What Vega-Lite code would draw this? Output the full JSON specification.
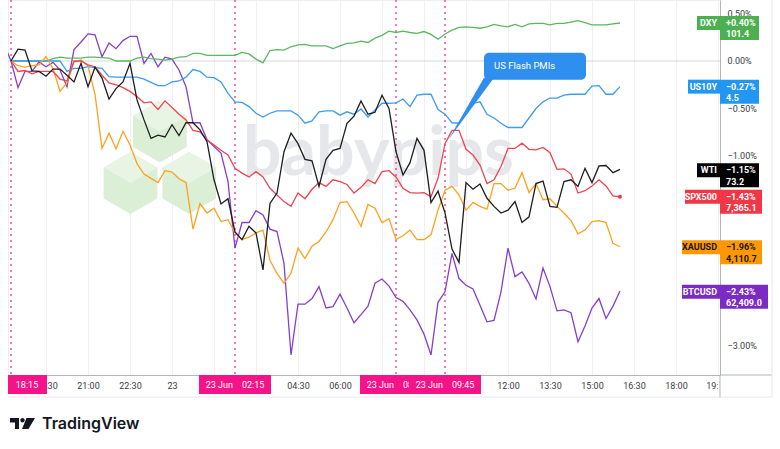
{
"$schema":"https://vega.github.io/schema/vega-lite/v6.json",
"width":712,"height":375,
"autosize":{"type":"none"},
"padding":{"left":8,"top":0,"right":60,"bottom":74},
"background":"#ffffff",
"config":{"font":"Roboto","view":{"stroke":"#eceef2"}},
"data":{"values":[{}]},
"datasets":{
"prices":[
{"t":"2025-06-22T18:00","BTCUSD":0.18},
{"t":"2025-06-22T18:15","DXY":0,"US10Y":0,"XAUUSD":0,"BTCUSD":0,"SPX500":0,"WTI":0},
{"t":"2025-06-22T18:30","DXY":0,"US10Y":0,"XAUUSD":-0.05,"BTCUSD":-0.28,"SPX500":-0.11,"WTI":0.125},
{"t":"2025-06-22T18:45","DXY":0,"US10Y":0,"XAUUSD":-0.065,"BTCUSD":-0.11,"SPX500":-0.10,"WTI":0.115},
{"t":"2025-06-22T19:00","DXY":0,"US10Y":0,"XAUUSD":-0.05,"BTCUSD":-0.11,"SPX500":-0.135,"WTI":-0.105},
{"t":"2025-06-22T19:15","DXY":0,"US10Y":0,"XAUUSD":-0.04,"BTCUSD":-0.01,"SPX500":-0.11,"WTI":-0.11},
{"t":"2025-06-22T19:30","DXY":0,"US10Y":0,"XAUUSD":0.045,"BTCUSD":-0.06,"SPX500":-0.11,"WTI":-0.16},
{"t":"2025-06-22T19:45","DXY":0.025,"US10Y":0,"XAUUSD":-0.08,"BTCUSD":-0.015,"SPX500":-0.11,"WTI":-0.085},
{"t":"2025-06-22T20:00","DXY":0.04,"US10Y":0,"XAUUSD":-0.32,"BTCUSD":-0.095,"SPX500":-0.19,"WTI":-0.085},
{"t":"2025-06-22T20:15","DXY":0.03,"US10Y":-0.11,"XAUUSD":-0.23,"BTCUSD":-0.27,"SPX500":-0.21,"WTI":-0.15},
{"t":"2025-06-22T20:30","DXY":0.03,"US10Y":-0.077,"XAUUSD":-0.01,"BTCUSD":0.12,"SPX500":0,"WTI":-0.22},
{"t":"2025-06-22T20:45","DXY":0.03,"US10Y":-0.077,"XAUUSD":0.01,"BTCUSD":0.2,"SPX500":0,"WTI":-0.025},
{"t":"2025-06-22T21:00","DXY":0.04,"US10Y":-0.06,"XAUUSD":-0.05,"BTCUSD":0.285,"SPX500":-0.04,"WTI":-0.27},
{"t":"2025-06-22T21:15","DXY":0.04,"US10Y":-0.07,"XAUUSD":-0.35,"BTCUSD":0.275,"SPX500":-0.06,"WTI":-0.065},
{"t":"2025-06-22T21:30","DXY":0.035,"US10Y":-0.077,"XAUUSD":-0.92,"BTCUSD":0.045,"SPX500":-0.15,"WTI":-0.18},
{"t":"2025-06-22T21:45","DXY":0.03,"US10Y":-0.165,"XAUUSD":-0.76,"BTCUSD":0.19,"SPX500":-0.23,"WTI":-0.4},
{"t":"2025-06-22T22:00","DXY":0,"US10Y":-0.17,"XAUUSD":-0.925,"BTCUSD":0.13,"SPX500":-0.25,"WTI":-0.29},
{"t":"2025-06-22T22:15","DXY":0,"US10Y":-0.17,"XAUUSD":-0.74,"BTCUSD":0.215,"SPX500":-0.28,"WTI":-0.22},
{"t":"2025-06-22T22:30","DXY":0,"US10Y":-0.17,"XAUUSD":-0.885,"BTCUSD":0.26,"SPX500":-0.32,"WTI":-0.025},
{"t":"2025-06-22T22:45","DXY":0.03,"US10Y":-0.17,"XAUUSD":-1.08,"BTCUSD":0.26,"SPX500":-0.375,"WTI":-0.41},
{"t":"2025-06-22T23:00","DXY":0.04,"US10Y":-0.19,"XAUUSD":-1.19,"BTCUSD":-0.025,"SPX500":-0.44,"WTI":-0.62},
{"t":"2025-06-22T23:15","DXY":0.025,"US10Y":-0.225,"XAUUSD":-1.235,"BTCUSD":0.08,"SPX500":-0.43,"WTI":-0.815},
{"t":"2025-06-22T23:30","DXY":0.02,"US10Y":-0.26,"XAUUSD":-1.28,"BTCUSD":-0.06,"SPX500":-0.51,"WTI":-0.78},
{"t":"2025-06-22T23:45","DXY":0.01,"US10Y":-0.26,"XAUUSD":-1.155,"BTCUSD":0.04,"SPX500":-0.42,"WTI":-0.8},
{"t":"2025-06-23T00:00","DXY":0.02,"US10Y":-0.22,"XAUUSD":-1.17,"BTCUSD":0.02,"SPX500":-0.49,"WTI":-0.67},
{"t":"2025-06-23T00:15","DXY":0.04,"US10Y":-0.21,"XAUUSD":-1.24,"BTCUSD":-0.095,"SPX500":-0.56,"WTI":-0.785},
{"t":"2025-06-23T00:30","DXY":0.045,"US10Y":-0.17,"XAUUSD":-1.28,"BTCUSD":-0.27,"SPX500":-0.62,"WTI":-0.65},
{"t":"2025-06-23T00:45","DXY":0.08,"US10Y":-0.09,"XAUUSD":-1.77,"BTCUSD":-0.65,"SPX500":-0.73,"WTI":-0.65},
{"t":"2025-06-23T01:00","DXY":0.08,"US10Y":-0.11,"XAUUSD":-1.5,"BTCUSD":-0.65,"SPX500":-0.745,"WTI":-0.725},
{"t":"2025-06-23T01:15","DXY":0.06,"US10Y":-0.17,"XAUUSD":-1.6,"BTCUSD":-0.83,"SPX500":-0.83,"WTI":-0.85},
{"t":"2025-06-23T01:30","DXY":0.06,"US10Y":-0.175,"XAUUSD":-1.55,"BTCUSD":-0.9,"SPX500":-0.885,"WTI":-1.25},
{"t":"2025-06-23T01:45","DXY":0.06,"US10Y":-0.22,"XAUUSD":-1.69,"BTCUSD":-0.97,"SPX500":-0.94,"WTI":-1.505},
{"t":"2025-06-23T02:00","DXY":0.06,"US10Y":-0.34,"XAUUSD":-1.67,"BTCUSD":-1.27,"SPX500":-0.99,"WTI":-1.45},
{"t":"2025-06-23T02:15","DXY":0.06,"US10Y":-0.43,"XAUUSD":-1.81,"BTCUSD":-1.97,"SPX500":-1.13,"WTI":-1.8},
{"t":"2025-06-23T02:30","DXY":0.09,"US10Y":-0.435,"XAUUSD":-1.88,"BTCUSD":-1.7,"SPX500":-1.18,"WTI":-1.88},
{"t":"2025-06-23T02:45","DXY":0.075,"US10Y":-0.48,"XAUUSD":-1.855,"BTCUSD":-1.7,"SPX500":-1.22,"WTI":-1.74},
{"t":"2025-06-23T03:00","DXY":0.02,"US10Y":-0.55,"XAUUSD":-1.81,"BTCUSD":-1.575,"SPX500":-1.165,"WTI":-1.81},
{"t":"2025-06-23T03:15","DXY":-0.02,"US10Y":-0.59,"XAUUSD":-1.78,"BTCUSD":-1.62,"SPX500":-1.22,"WTI":-2.2},
{"t":"2025-06-23T03:30","DXY":0.11,"US10Y":-0.55,"XAUUSD":-2.1,"BTCUSD":-1.77,"SPX500":-1.34,"WTI":-1.5},
{"t":"2025-06-23T03:45","DXY":0.12,"US10Y":-0.525,"XAUUSD":-2.235,"BTCUSD":-1.795,"SPX500":-1.41,"WTI":-1.39},
{"t":"2025-06-23T04:00","DXY":0.115,"US10Y":-0.525,"XAUUSD":-2.34,"BTCUSD":-2.13,"SPX500":-1.48,"WTI":-0.955},
{"t":"2025-06-23T04:15","DXY":0.15,"US10Y":-0.525,"XAUUSD":-2.235,"BTCUSD":-3.095,"SPX500":-1.53,"WTI":-0.76},
{"t":"2025-06-23T04:30","DXY":0.17,"US10Y":-0.57,"XAUUSD":-1.97,"BTCUSD":-2.56,"SPX500":-1.39,"WTI":-0.87},
{"t":"2025-06-23T04:45","DXY":0.175,"US10Y":-0.655,"XAUUSD":-2.08,"BTCUSD":-2.56,"SPX500":-1.45,"WTI":-1.035},
{"t":"2025-06-23T05:00","DXY":0.16,"US10Y":-0.63,"XAUUSD":-1.95,"BTCUSD":-2.5,"SPX500":-1.35,"WTI":-1.05},
{"t":"2025-06-23T05:15","DXY":0.16,"US10Y":-0.535,"XAUUSD":-1.9,"BTCUSD":-2.375,"SPX500":-1.28,"WTI":-1.32},
{"t":"2025-06-23T05:30","DXY":0.16,"US10Y":-0.525,"XAUUSD":-1.8,"BTCUSD":-2.6,"SPX500":-1.32,"WTI":-1.035},
{"t":"2025-06-23T05:45","DXY":0.13,"US10Y":-0.525,"XAUUSD":-1.67,"BTCUSD":-2.585,"SPX500":-1.25,"WTI":-0.94},
{"t":"2025-06-23T06:00","DXY":0.16,"US10Y":-0.57,"XAUUSD":-1.49,"BTCUSD":-2.455,"SPX500":-1.27,"WTI":-0.92},
{"t":"2025-06-23T06:15","DXY":0.185,"US10Y":-0.535,"XAUUSD":-1.48,"BTCUSD":-2.6,"SPX500":-1.3,"WTI":-0.655},
{"t":"2025-06-23T06:30","DXY":0.19,"US10Y":-0.56,"XAUUSD":-1.6,"BTCUSD":-2.755,"SPX500":-1.39,"WTI":-0.58},
{"t":"2025-06-23T06:45","DXY":0.21,"US10Y":-0.505,"XAUUSD":-1.74,"BTCUSD":-2.67,"SPX500":-1.33,"WTI":-0.42},
{"t":"2025-06-23T07:00","DXY":0.195,"US10Y":-0.59,"XAUUSD":-1.51,"BTCUSD":-2.58,"SPX500":-1.25,"WTI":-0.56},
{"t":"2025-06-23T07:15","DXY":0.24,"US10Y":-0.515,"XAUUSD":-1.55,"BTCUSD":-2.34,"SPX500":-1.29,"WTI":-0.54},
{"t":"2025-06-23T07:30","DXY":0.27,"US10Y":-0.445,"XAUUSD":-1.7,"BTCUSD":-2.295,"SPX500":-1.165,"WTI":-0.36},
{"t":"2025-06-23T07:45","DXY":0.315,"US10Y":-0.445,"XAUUSD":-1.66,"BTCUSD":-2.37,"SPX500":-1.155,"WTI":-0.5},
{"t":"2025-06-23T08:00","DXY":0.3,"US10Y":-0.44,"XAUUSD":-1.88,"BTCUSD":-2.49,"SPX500":-1.22,"WTI":-0.955},
{"t":"2025-06-23T08:15","DXY":0.315,"US10Y":-0.4,"XAUUSD":-1.84,"BTCUSD":-2.53,"SPX500":-1.34,"WTI":-1.2},
{"t":"2025-06-23T08:30","DXY":0.3,"US10Y":-0.48,"XAUUSD":-1.78,"BTCUSD":-2.62,"SPX500":-1.385,"WTI":-1.07},
{"t":"2025-06-23T08:45","DXY":0.29,"US10Y":-0.36,"XAUUSD":-1.88,"BTCUSD":-2.725,"SPX500":-1.39,"WTI":-0.815},
{"t":"2025-06-23T09:00","DXY":0.31,"US10Y":-0.35,"XAUUSD":-1.88,"BTCUSD":-2.875,"SPX500":-1.385,"WTI":-0.94},
{"t":"2025-06-23T09:15","DXY":0.28,"US10Y":-0.35,"XAUUSD":-1.83,"BTCUSD":-3.095,"SPX500":-1.43,"WTI":-1.49},
{"t":"2025-06-23T09:30","DXY":0.23,"US10Y":-0.51,"XAUUSD":-1.57,"BTCUSD":-2.54,"SPX500":-1.235,"WTI":-1.37},
{"t":"2025-06-23T09:45","DXY":0.285,"US10Y":-0.56,"XAUUSD":-1.36,"BTCUSD":-2.43,"SPX500":-0.87,"WTI":-1.6},
{"t":"2025-06-23T10:00","DXY":0.325,"US10Y":-0.65,"XAUUSD":-1.32,"BTCUSD":-2.025,"SPX500":-0.73,"WTI":-1.98},
{"t":"2025-06-23T10:15","DXY":0.355,"US10Y":-0.655,"XAUUSD":-1.41,"BTCUSD":-2.29,"SPX500":-0.73,"WTI":-2.12},
{"t":"2025-06-23T10:30","DXY":0.36,"US10Y":-0.55,"XAUUSD":-1.57,"BTCUSD":-2.36,"SPX500":-0.93,"WTI":-1.28},
{"t":"2025-06-23T10:45","DXY":0.355,"US10Y":-0.445,"XAUUSD":-1.49,"BTCUSD":-2.4,"SPX500":-0.99,"WTI":-1.35},
{"t":"2025-06-23T11:00","DXY":0.345,"US10Y":-0.43,"XAUUSD":-1.53,"BTCUSD":-2.57,"SPX500":-1.095,"WTI":-1.295},
{"t":"2025-06-23T11:15","DXY":0.36,"US10Y":-0.56,"XAUUSD":-1.56,"BTCUSD":-2.745,"SPX500":-1.29,"WTI":-1.445},
{"t":"2025-06-23T11:30","DXY":0.385,"US10Y":-0.6,"XAUUSD":-1.29,"BTCUSD":-2.73,"SPX500":-1.25,"WTI":-1.53},
{"t":"2025-06-23T11:45","DXY":0.37,"US10Y":-0.655,"XAUUSD":-1.29,"BTCUSD":-2.43,"SPX500":-1.11,"WTI":-1.6},
{"t":"2025-06-23T12:00","DXY":0.36,"US10Y":-0.7,"XAUUSD":-1.36,"BTCUSD":-1.97,"SPX500":-0.92,"WTI":-1.57},
{"t":"2025-06-23T12:15","DXY":0.385,"US10Y":-0.7,"XAUUSD":-1.34,"BTCUSD":-2.27,"SPX500":-0.92,"WTI":-1.48},
{"t":"2025-06-23T12:30","DXY":0.36,"US10Y":-0.7,"XAUUSD":-1.175,"BTCUSD":-2.22,"SPX500":-0.865,"WTI":-1.7},
{"t":"2025-06-23T12:45","DXY":0.39,"US10Y":-0.6,"XAUUSD":-1.385,"BTCUSD":-2.34,"SPX500":-0.93,"WTI":-1.64},
{"t":"2025-06-23T13:00","DXY":0.395,"US10Y":-0.5,"XAUUSD":-1.29,"BTCUSD":-2.505,"SPX500":-0.935,"WTI":-1.29},
{"t":"2025-06-23T13:15","DXY":0.395,"US10Y":-0.43,"XAUUSD":-1.46,"BTCUSD":-2.18,"SPX500":-0.91,"WTI":-1.265},
{"t":"2025-06-23T13:30","DXY":0.38,"US10Y":-0.39,"XAUUSD":-1.45,"BTCUSD":-2.375,"SPX500":-0.965,"WTI":-1.53},
{"t":"2025-06-23T13:45","DXY":0.395,"US10Y":-0.39,"XAUUSD":-1.53,"BTCUSD":-2.63,"SPX500":-1.14,"WTI":-1.54},
{"t":"2025-06-23T14:00","DXY":0.395,"US10Y":-0.36,"XAUUSD":-1.6,"BTCUSD":-2.62,"SPX500":-1.135,"WTI":-1.27},
{"t":"2025-06-23T14:15","DXY":0.41,"US10Y":-0.35,"XAUUSD":-1.68,"BTCUSD":-2.65,"SPX500":-1.19,"WTI":-1.25},
{"t":"2025-06-23T14:30","DXY":0.425,"US10Y":-0.35,"XAUUSD":-1.82,"BTCUSD":-2.955,"SPX500":-1.39,"WTI":-1.32},
{"t":"2025-06-23T14:45","DXY":0.405,"US10Y":-0.35,"XAUUSD":-1.78,"BTCUSD":-2.79,"SPX500":-1.365,"WTI":-1.13},
{"t":"2025-06-23T15:00","DXY":0.38,"US10Y":-0.265,"XAUUSD":-1.69,"BTCUSD":-2.6,"SPX500":-1.315,"WTI":-1.28},
{"t":"2025-06-23T15:15","DXY":0.38,"US10Y":-0.26,"XAUUSD":-1.68,"BTCUSD":-2.5,"SPX500":-1.25,"WTI":-1.105},
{"t":"2025-06-23T15:30","DXY":0.38,"US10Y":-0.35,"XAUUSD":-1.7,"BTCUSD":-2.71,"SPX500":-1.315,"WTI":-1.1},
{"t":"2025-06-23T15:45","DXY":0.39,"US10Y":-0.35,"XAUUSD":-1.92,"BTCUSD":-2.58,"SPX500":-1.42,"WTI":-1.175},
{"t":"2025-06-23T16:00","DXY":0.4,"US10Y":-0.27,"XAUUSD":-1.955,"BTCUSD":-2.42,"SPX500":-1.43,"WTI":-1.14}
],
"tags":[
{"s":"DXY","pct":"+0.40%","price":"101.4","v":0.40,"t":"2025-06-23T16:00"},
{"s":"US10Y","pct":"−0.27%","price":"4.5","v":-0.27,"t":"2025-06-23T16:00"},
{"s":"WTI","pct":"−1.15%","price":"73.2","v":-1.15,"t":"2025-06-23T16:00"},
{"s":"SPX500","pct":"−1.43%","price":"7,365.1","v":-1.43,"t":"2025-06-23T16:00"},
{"s":"XAUUSD","pct":"−1.96%","price":"4,110.7","v":-1.96,"t":"2025-06-23T16:00"},
{"s":"BTCUSD","pct":"−2.43%","price":"62,409.0","v":-2.43,"t":"2025-06-23T16:00"}
],
"events":[
{"t":"2025-06-22T18:15","label":"18:15"},
{"t":"2025-06-23T02:15","label":"23 Jun\u00a0\u00a0\u00a0\u00a002:15"},
{"t":"2025-06-23T08:00","label":"23 Jun\u00a0\u00a0\u00a0\u00a008:00"},
{"t":"2025-06-23T09:45","label":"23 Jun\u00a0\u00a0\u00a0\u00a009:45"}
],
"note":[{"t":"2025-06-23T09:45","v":-0.87,"label":"US Flash PMIs"}]
},
"layer":[
{"mark":{"type":"point","shape":"M0,-0.933L0.3835,-0.7115L0.3835,-0.2685L0,-0.047L-0.3835,-0.2685L-0.3835,-0.7115ZM-0.42,-0.197L-0.0365,0.0245L-0.0365,0.4675L-0.42,0.689L-0.8035,0.4675L-0.8035,0.0245ZM0.42,-0.197L0.8035,0.0245L0.8035,0.4675L0.42,0.689L0.0365,0.4675L0.0365,0.0245Z","size":19600,"filled":true,"fill":"#dbefd6","strokeWidth":0,"opacity":1},
 "encoding":{"x":{"datum":{"year":2025,"month":6,"date":22,"hours":23,"minutes":34},"type":"temporal"},"y":{"datum":-1.103,"type":"quantitative"}}},
{"mark":{"type":"point","shape":"M0,-0.933L0.3835,-0.7115L0,-0.49L-0.3835,-0.7115ZM-0.42,-0.197L-0.0365,0.0245L-0.42,0.246L-0.8035,0.0245ZM0.42,-0.197L0.8035,0.0245L0.42,0.246L0.0365,0.0245Z","size":19600,"filled":true,"fill":"#e8f5e5","strokeWidth":0,"opacity":1},
 "encoding":{"x":{"datum":{"year":2025,"month":6,"date":22,"hours":23,"minutes":34},"type":"temporal"},"y":{"datum":-1.103,"type":"quantitative"}}},
{"mark":{"type":"text","text":"babypips","font":"Lato","fontWeight":"bold","fontSize":68,"align":"left","baseline":"alphabetic","color":"#e6e7ea"},
 "encoding":{"x":{"datum":{"year":2025,"month":6,"date":23,"hours":2,"minutes":32},"type":"temporal"},"y":{"datum":-1.2,"type":"quantitative"}}},
{"mark":{"type":"rule","color":"#d3d6dc","strokeWidth":1},
 "encoding":{"y":{"datum":0,"type":"quantitative"}}},
{"data":{"name":"events"},
 "mark":{"type":"rule","color":"#f4509c","strokeWidth":1.5,"strokeDash":[2,4]},
 "encoding":{"x":{"field":"t","type":"temporal"}}},
{"data":{"name":"prices"},
 "transform":[{"fold":["DXY","US10Y","XAUUSD","BTCUSD","SPX500","WTI"],"as":["s","v"]},{"filter":"isValid(datum.v)"}],
 "mark":{"type":"line","strokeWidth":1.3,"clip":true},
 "encoding":{
  "x":{"field":"t","type":"temporal",
   "scale":{"domain":[{"year":2025,"month":6,"date":22,"hours":18,"minutes":8,"seconds":34},{"year":2025,"month":6,"date":23,"hours":19,"minutes":34,"seconds":17}],"nice":false},
   "axis":{"orient":"bottom","title":null,
    "values":[{"year":2025,"month":6,"date":22,"hours":19,"minutes":30},{"year":2025,"month":6,"date":22,"hours":21,"minutes":0},{"year":2025,"month":6,"date":22,"hours":22,"minutes":30},{"year":2025,"month":6,"date":23,"hours":0,"minutes":0},{"year":2025,"month":6,"date":23,"hours":1,"minutes":30},{"year":2025,"month":6,"date":23,"hours":3,"minutes":0},{"year":2025,"month":6,"date":23,"hours":4,"minutes":30},{"year":2025,"month":6,"date":23,"hours":6,"minutes":0},{"year":2025,"month":6,"date":23,"hours":7,"minutes":30},{"year":2025,"month":6,"date":23,"hours":9,"minutes":0},{"year":2025,"month":6,"date":23,"hours":10,"minutes":30},{"year":2025,"month":6,"date":23,"hours":12,"minutes":0},{"year":2025,"month":6,"date":23,"hours":13,"minutes":30},{"year":2025,"month":6,"date":23,"hours":15,"minutes":0},{"year":2025,"month":6,"date":23,"hours":16,"minutes":30},{"year":2025,"month":6,"date":23,"hours":18,"minutes":0},{"year":2025,"month":6,"date":23,"hours":19,"minutes":30}],
    "labelExpr":"indexof(['01:30','03:00','07:30','09:00','10:30'], timeFormat(datum.value,'%H:%M')) >= 0 ? '' : (timeFormat(datum.value,'%H:%M') == '00:00' ? '23' : (timeFormat(datum.value,'%d %H:%M') == '23 19:30' ? '19:' : timeFormat(datum.value,'%H:%M')))",
    "labelAlign":{"condition":{"test":"timeFormat(datum.value,'%d %H:%M') == '23 19:30'","value":"right"},"value":"center"},
    "labelOverlap":false,"labelFlush":false,"labelBound":false,
    "ticks":false,"domain":true,"domainColor":"#b2b5be","grid":true,"gridColor":"#eef0f4",
    "labelColor":"#3a3d45","labelFontSize":9,"labelFont":"Roboto","labelPadding":6}},
  "y":{"field":"v","type":"quantitative",
   "scale":{"domain":[-3.3053,0.6421],"nice":false,"zero":false},
   "axis":{"orient":"right","title":null,"values":[0.5,0,-0.5,-1,-3],
    "labelExpr":"format(datum.value,'.2f') + '%'",
    "ticks":false,"domain":true,"domainColor":"#b2b5be","grid":false,
    "labelColor":"#3a3d45","labelFontSize":9,"labelFont":"Roboto","labelPadding":7}},
  "stroke":{"field":"s","type":"nominal","legend":null,
   "scale":{"domain":["DXY","US10Y","XAUUSD","BTCUSD","SPX500","WTI"],"range":["#5cb85f","#3d9bf2","#ffa11c","#8440cc","#f0444f","#1e1e1e"]}}}},
{"data":{"name":"tags"},"transform":[{"filter":"datum.s === 'SPX500'"}],
 "mark":{"type":"circle","size":16,"color":"#f23645","opacity":1},
 "encoding":{"x":{"field":"t","type":"temporal"},"y":{"field":"v","type":"quantitative"}}},
{"data":{"name":"note"},
 "mark":{"type":"point","shape":"M0.06,-0.07L0.78,-1.32L0.98,-1.32Z","size":10000,"filled":true,"fill":"#2f8fef","strokeWidth":0,"opacity":1},
 "encoding":{"x":{"field":"t","type":"temporal"},"y":{"field":"v","type":"quantitative"}}},
{"data":{"name":"note"},
 "mark":{"type":"rect","fill":"#2f8fef","cornerRadius":5,"xOffset":39,"x2Offset":141,"yOffset":-91,"y2Offset":-64},
 "encoding":{"x":{"field":"t","type":"temporal"},"x2":{"field":"t"},"y":{"field":"v","type":"quantitative"},"y2":{"field":"v"}}},
{"data":{"name":"note"},
 "mark":{"type":"text","align":"left","baseline":"middle","xOffset":49,"yOffset":-78,"fontSize":9.5,"color":"#ffffff","font":"Roboto"},
 "encoding":{"x":{"field":"t","type":"temporal"},"y":{"field":"v","type":"quantitative"},"text":{"field":"label"}}},
{"data":{"name":"tags"},"transform":[{"filter":{"field":"s","oneOf":["DXY","WTI"]}}],
 "mark":{"type":"rect","xOffset":-23,"x2Offset":0,"yOffset":-7,"y2Offset":7},
 "encoding":{"x":{"datum":{"year":2025,"month":6,"date":23,"hours":19,"minutes":34,"seconds":17},"type":"temporal"},"x2":{"datum":{"year":2025,"month":6,"date":23,"hours":19,"minutes":34,"seconds":17}},"y":{"field":"v","type":"quantitative"},"y2":{"field":"v"},
  "fill":{"field":"s","type":"nominal","legend":null,"scale":{"domain":["DXY","US10Y","XAUUSD","BTCUSD","SPX500","WTI"],"range":["#4caf50","#2196f3","#ff9800","#7b2bc4","#f23645","#000000"]}}}},
{"data":{"name":"tags"},"transform":[{"filter":{"field":"s","oneOf":["US10Y"]}}],
 "mark":{"type":"rect","xOffset":-32,"x2Offset":0,"yOffset":-7,"y2Offset":7},
 "encoding":{"x":{"datum":{"year":2025,"month":6,"date":23,"hours":19,"minutes":34,"seconds":17},"type":"temporal"},"x2":{"datum":{"year":2025,"month":6,"date":23,"hours":19,"minutes":34,"seconds":17}},"y":{"field":"v","type":"quantitative"},"y2":{"field":"v"},"fill":{"field":"s","type":"nominal","legend":null}}},
{"data":{"name":"tags"},"transform":[{"filter":{"field":"s","oneOf":["SPX500"]}}],
 "mark":{"type":"rect","xOffset":-35,"x2Offset":0,"yOffset":-7,"y2Offset":7},
 "encoding":{"x":{"datum":{"year":2025,"month":6,"date":23,"hours":19,"minutes":34,"seconds":17},"type":"temporal"},"x2":{"datum":{"year":2025,"month":6,"date":23,"hours":19,"minutes":34,"seconds":17}},"y":{"field":"v","type":"quantitative"},"y2":{"field":"v"},"fill":{"field":"s","type":"nominal","legend":null}}},
{"data":{"name":"tags"},"transform":[{"filter":{"field":"s","oneOf":["XAUUSD","BTCUSD"]}}],
 "mark":{"type":"rect","xOffset":-38,"x2Offset":0,"yOffset":-7,"y2Offset":7},
 "encoding":{"x":{"datum":{"year":2025,"month":6,"date":23,"hours":19,"minutes":34,"seconds":17},"type":"temporal"},"x2":{"datum":{"year":2025,"month":6,"date":23,"hours":19,"minutes":34,"seconds":17}},"y":{"field":"v","type":"quantitative"},"y2":{"field":"v"},"fill":{"field":"s","type":"nominal","legend":null}}},
{"data":{"name":"tags"},"transform":[{"filter":{"field":"s","oneOf":["DXY","US10Y","WTI"]}}],
 "mark":{"type":"rect","xOffset":0,"x2Offset":39,"yOffset":-7,"y2Offset":17},
 "encoding":{"x":{"datum":{"year":2025,"month":6,"date":23,"hours":19,"minutes":34,"seconds":17},"type":"temporal"},"x2":{"datum":{"year":2025,"month":6,"date":23,"hours":19,"minutes":34,"seconds":17}},"y":{"field":"v","type":"quantitative"},"y2":{"field":"v"},"fill":{"field":"s","type":"nominal","legend":null}}},
{"data":{"name":"tags"},"transform":[{"filter":{"field":"s","oneOf":["SPX500","XAUUSD"]}}],
 "mark":{"type":"rect","xOffset":0,"x2Offset":42,"yOffset":-7,"y2Offset":17},
 "encoding":{"x":{"datum":{"year":2025,"month":6,"date":23,"hours":19,"minutes":34,"seconds":17},"type":"temporal"},"x2":{"datum":{"year":2025,"month":6,"date":23,"hours":19,"minutes":34,"seconds":17}},"y":{"field":"v","type":"quantitative"},"y2":{"field":"v"},"fill":{"field":"s","type":"nominal","legend":null}}},
{"data":{"name":"tags"},"transform":[{"filter":{"field":"s","oneOf":["BTCUSD"]}}],
 "mark":{"type":"rect","xOffset":0,"x2Offset":48,"yOffset":-7,"y2Offset":17},
 "encoding":{"x":{"datum":{"year":2025,"month":6,"date":23,"hours":19,"minutes":34,"seconds":17},"type":"temporal"},"x2":{"datum":{"year":2025,"month":6,"date":23,"hours":19,"minutes":34,"seconds":17}},"y":{"field":"v","type":"quantitative"},"y2":{"field":"v"},"fill":{"field":"s","type":"nominal","legend":null}}},
{"data":{"name":"tags"},
 "mark":{"type":"text","align":"right","baseline":"middle","xOffset":-3,"fontSize":9,"fontWeight":"bold","font":"Roboto"},
 "encoding":{"x":{"datum":{"year":2025,"month":6,"date":23,"hours":19,"minutes":34,"seconds":17},"type":"temporal"},"y":{"field":"v","type":"quantitative"},"text":{"field":"s"},
  "color":{"condition":{"test":"datum.s === 'XAUUSD'","value":"#131722"},"value":"#ffffff"}}},
{"data":{"name":"tags"},
 "mark":{"type":"text","align":"left","baseline":"middle","xOffset":6,"fontSize":9,"fontWeight":"bold","font":"Roboto"},
 "encoding":{"x":{"datum":{"year":2025,"month":6,"date":23,"hours":19,"minutes":34,"seconds":17},"type":"temporal"},"y":{"field":"v","type":"quantitative"},"text":{"field":"pct"},
  "color":{"condition":{"test":"datum.s === 'XAUUSD'","value":"#131722"},"value":"#ffffff"}}},
{"data":{"name":"tags"},
 "mark":{"type":"text","align":"left","baseline":"middle","xOffset":6,"yOffset":11.5,"fontSize":9,"fontWeight":"bold","font":"Roboto"},
 "encoding":{"x":{"datum":{"year":2025,"month":6,"date":23,"hours":19,"minutes":34,"seconds":17},"type":"temporal"},"y":{"field":"v","type":"quantitative"},"text":{"field":"price"},
  "color":{"condition":{"test":"datum.s === 'XAUUSD'","value":"#131722"},"value":"#ffffff"}}},
{"data":{"name":"events"},"transform":[{"filter":"datum.label !== '18:15' && indexof(datum.label,'09:45') < 0"}],
 "layer":[
  {"mark":{"type":"rect","fill":"#f5138a","xOffset":-36,"x2Offset":36,"yOffset":0,"y2Offset":19},
   "encoding":{"x":{"field":"t","type":"temporal"},"x2":{"field":"t"},"y":{"datum":-3.3053,"type":"quantitative"},"y2":{"datum":-3.3053}}},
  {"mark":{"type":"text","align":"center","baseline":"middle","yOffset":10,"fontSize":9,"color":"#ffffff","font":"Roboto"},
   "encoding":{"x":{"field":"t","type":"temporal"},"y":{"datum":-3.3053,"type":"quantitative"},"text":{"field":"label"}}}
 ]},
{"data":{"name":"events"},"transform":[{"filter":"datum.label === '18:15'"}],
 "layer":[
  {"mark":{"type":"rect","fill":"#f5138a","xOffset":-3,"x2Offset":36,"yOffset":0,"y2Offset":19},
   "encoding":{"x":{"field":"t","type":"temporal"},"x2":{"field":"t"},"y":{"datum":-3.3053,"type":"quantitative"},"y2":{"datum":-3.3053}}},
  {"mark":{"type":"text","align":"center","baseline":"middle","xOffset":16,"yOffset":10,"fontSize":9,"color":"#ffffff","font":"Roboto"},
   "encoding":{"x":{"field":"t","type":"temporal"},"y":{"datum":-3.3053,"type":"quantitative"},"text":{"field":"label"}}}
 ]},
{"data":{"name":"events"},"transform":[{"filter":"indexof(datum.label,'09:45') >= 0"}],
 "layer":[
  {"mark":{"type":"rect","fill":"#f5138a","xOffset":-36,"x2Offset":36,"yOffset":0,"y2Offset":19},
   "encoding":{"x":{"field":"t","type":"temporal"},"x2":{"field":"t"},"y":{"datum":-3.3053,"type":"quantitative"},"y2":{"datum":-3.3053}}},
  {"mark":{"type":"text","align":"center","baseline":"middle","yOffset":10,"fontSize":9,"color":"#ffffff","font":"Roboto"},
   "encoding":{"x":{"field":"t","type":"temporal"},"y":{"datum":-3.3053,"type":"quantitative"},"text":{"field":"label"}}}
 ]},
{"mark":{"type":"rule","color":"#b2b5be","strokeWidth":1,"x2Offset":52},
 "encoding":{"x":{"datum":{"year":2025,"month":6,"date":23,"hours":19,"minutes":34,"seconds":17},"type":"temporal"},"x2":{"datum":{"year":2025,"month":6,"date":23,"hours":19,"minutes":34,"seconds":17}},"y":{"datum":-3.3053,"type":"quantitative"},"y2":{"datum":-3.3053}}},
{"mark":{"type":"rule","color":"#b2b5be","strokeWidth":1,"y2Offset":23},
 "encoding":{"x":{"datum":{"year":2025,"month":6,"date":23,"hours":19,"minutes":34,"seconds":17},"type":"temporal"},"y":{"datum":-3.3053,"type":"quantitative"},"y2":{"datum":-3.3053}}},
{"mark":{"type":"rule","color":"#e6e8ee","strokeWidth":1,"yOffset":22,"y2Offset":22,"x2Offset":52},
 "encoding":{"x":{"datum":{"year":2025,"month":6,"date":22,"hours":18,"minutes":8,"seconds":34},"type":"temporal"},"x2":{"datum":{"year":2025,"month":6,"date":23,"hours":19,"minutes":34,"seconds":17}},"y":{"datum":-3.3053,"type":"quantitative"},"y2":{"datum":-3.3053}}},
{"mark":{"type":"rule","color":"#e6e8ee","strokeWidth":1,"xOffset":52,"y2Offset":22},
 "encoding":{"x":{"datum":{"year":2025,"month":6,"date":23,"hours":19,"minutes":34,"seconds":17},"type":"temporal"},"y":{"datum":0.6421,"type":"quantitative"},"y2":{"datum":-3.3053}}},
{"mark":{"type":"point","shape":"M-1,-0.44L-0.28,-0.44L-0.28,0.44L-0.6,0.44L-0.6,-0.08L-1,-0.08ZM-0.176,-0.264a0.176,0.176 0 1,0 0.352,0a0.176,0.176 0 1,0 -0.352,0ZM0.32,-0.44L1,-0.44L0.48,0.44L-0.04,0.44Z","size":625,"filled":true,"fill":"#131722","strokeWidth":0,"opacity":1,"xOffset":14.5,"yOffset":48.5},
 "encoding":{"x":{"datum":{"year":2025,"month":6,"date":22,"hours":18,"minutes":8,"seconds":34},"type":"temporal"},"y":{"datum":-3.3053,"type":"quantitative"}}},
{"mark":{"type":"text","text":"TradingView","font":"Inter","fontSize":16,"fontWeight":600,"color":"#131722","align":"left","baseline":"middle","xOffset":34,"yOffset":48.5},
 "encoding":{"x":{"datum":{"year":2025,"month":6,"date":22,"hours":18,"minutes":8,"seconds":34},"type":"temporal"},"y":{"datum":-3.3053,"type":"quantitative"}}}
]
}
